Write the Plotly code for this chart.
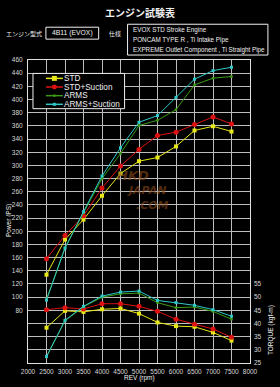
import plotly.graph_objects as go

rpm = [2500, 3000, 3500, 4000, 4500, 5000, 5500, 6000, 6500, 7000, 7500]

power_std = [134, 187.5, 217.7, 253.9, 287.6, 306.4, 312, 328.8, 353, 359.4, 351.4]
power_std_suction = [158.4, 193.6, 223.7, 265.5, 299, 324.3, 345.4, 350.4, 362, 373.6, 363]
power_arms = [97, 175, 228, 280, 318, 360.5, 368.5, 384.6, 422.3, 432.4, 434.9]
power_arms_suction = [95.5, 174.5, 229.7, 284, 326.8, 365.5, 375.6, 403.2, 430.9, 443.9, 449]

torque_std = [38.4, 44.8, 44.4, 45.4, 45.7, 43.75, 40.4, 39, 38.75, 36.6, 33.5]
torque_std_suction = [45.25, 46, 45.5, 47.5, 47.5, 46.5, 44.6, 41.6, 39.75, 37.9, 34.75]
torque_arms = [27.3, 41, 46.3, 50, 51.25, 51.5, 47.9, 46, 46.25, 44.6, 41.6]
torque_arms_suction = [27.5, 41.2, 46.5, 50.4, 51.9, 52.3, 48.75, 47.9, 46.9, 45.25, 42.75]

x_ticks = list(range(2000, 8001, 500))
power_ticks = list(range(80, 461, 20))
torque_ticks = list(range(25, 56, 5))

series_names = ["STD", "STD+Suction", "ARMS", "ARMS+Suction"]
colors = ["#e6e619", "#dd1111", "#3c9a14", "#2fc8c8"]
symbols = ["square", "circle", "square", "square"]
msizes = [4, 5, 2.5, 3]

W, H = 280, 387
L, R, T, B = 27, 250, 60, 365


def px(p):
    return (p - L) / (R - L)


def py(p):
    return (B - p) / (B - T)


fig = go.Figure()
powers = [power_std, power_std_suction, power_arms, power_arms_suction]
torques = [torque_std, torque_std_suction, torque_arms, torque_arms_suction]
for i, name in enumerate(series_names):
    fig.add_trace(go.Scatter(x=rpm, y=powers[i], mode="lines+markers", name=name,
                             line=dict(color=colors[i], width=1),
                             marker=dict(color=colors[i], symbol=symbols[i], size=msizes[i]),
                             showlegend=False))
    fig.add_trace(go.Scatter(x=rpm, y=torques[i], mode="lines+markers", name=name,
                             yaxis="y2",
                             line=dict(color=colors[i], width=1),
                             marker=dict(color=colors[i], symbol=symbols[i], size=msizes[i]),
                             showlegend=False))

tickfont = dict(family="Liberation Sans, Arial", size=6.5, color="#d8d8d8")
fig.update_layout(
    width=W, height=H,
    margin=dict(l=L, r=W - R, t=T, b=H - B, pad=0),
    paper_bgcolor="black", plot_bgcolor="black",
    xaxis=dict(range=[2000, 8000], tickvals=x_ticks, ticktext=[str(v) for v in x_ticks],
               showgrid=True, gridcolor="#bdbdbd", gridwidth=1,
               showline=True, linecolor="#e0e0e0", linewidth=1, mirror=True,
               zeroline=False, tickfont=tickfont, ticks="", ticklabelstandoff=2),
    yaxis=dict(range=[0, 460], tickvals=list(range(0, 461, 20)),
               ticktext=["" if v < 80 else str(v) for v in range(0, 461, 20)],
               showgrid=True, gridcolor="#bdbdbd", gridwidth=1,
               showline=True, linecolor="#e0e0e0", linewidth=1, mirror=True,
               zeroline=False, tickfont=tickfont, ticks="", ticklabelstandoff=3),
    yaxis2=dict(range=[25, 140], tickvals=torque_ticks, overlaying="y", side="right",
                showgrid=False, zeroline=False, showline=False, tickfont=tickfont, ticks="",
                ticklabelstandoff=3),
    showlegend=False,
)

anns = []
shapes = []
white = "#f0f0f0"
jp = "Noto Sans CJK JP"


def ann(text, x, y, size, family="Liberation Sans", xanchor="center", angle=0, **kw):
    d = dict(text=text, x=px(x), y=py(y), xref="paper", yref="paper", showarrow=False,
             xanchor=xanchor, yanchor="middle", textangle=angle, borderpad=0,
             font=dict(family=family, size=size, color=kw.pop("color", white)))
    d.update(kw)
    anns.append(d)


# title row
ann("<b>エンジン試験表</b>", 140, 12, 10, family=jp)
ann("エンジン型式", 23, 33, 6, family=jp)
shapes.append(dict(type="rect", xref="paper", yref="paper", x0=px(45), x1=px(98), y0=py(27), y1=py(39),
                   line=dict(color=white, width=1)))
ann("4B11 (EVOX)", 71.5, 33, 6.8)
ann("仕様", 114, 33, 6, family=jp)
shapes.append(dict(type="rect", xref="paper", yref="paper", x0=px(127), x1=px(268), y0=py(24), y1=py(55),
                   line=dict(color=white, width=1)))
spec_lines = ["EVOX STD Stroke Engine", "PONCAM TYPE R , Ti Intake Pipe",
              "EXPREME Outlet Component , Ti Straight Pipe"]
for k, t in enumerate(spec_lines):
    ann(t, 131, 30 + 10 * k, 6.3, xanchor="left")

# axis titles
ann("Power (PS)", 8, 222, 6.5, angle=-90)
ann("TORQUE (kgf-m)", 271, 332, 6.5, angle=-90)
ann("REV (rpm)", 139, 380.5, 6.5)

# watermark
for t, cx, cy, s in [("HKD", 132, 176, 13), ("JAPAN", 146, 191, 11), (".COM", 152, 206, 11)]:
    ann("<b><i>" + t + "</i></b>", cx, cy, s, family="DejaVu Sans", color="#8a4a18", opacity=0.6)

# legend (custom)
shapes.append(dict(type="rect", xref="paper", yref="paper", x0=px(32), x1=px(124), y0=py(73.5), y1=py(109),
                   fillcolor="black", line=dict(color=white, width=1), layer="above"))
leg_y = [78.5, 87.2, 95.9, 104.6]
for i, name in enumerate(series_names):
    yy = py(leg_y[i])
    shapes.append(dict(type="line", xref="paper", yref="paper", x0=px(45), x1=px(62), y0=yy, y1=yy,
                       line=dict(color=colors[i], width=1.5), layer="above"))
    hs = [2.5, 2.5, 1.2, 1.5][i]
    stype = "circle" if symbols[i] == "circle" else "rect"
    shapes.append(dict(type=stype, xref="paper", yref="paper",
                       x0=px(53.5 - hs), x1=px(53.5 + hs), y0=py(leg_y[i] + hs), y1=py(leg_y[i] - hs),
                       fillcolor=colors[i], line=dict(color=colors[i], width=0), layer="above"))
    ann(name, 62, leg_y[i], 8.2, xanchor="left")

fig.update_layout(annotations=anns, shapes=shapes)
fig.write_html("out.html")
